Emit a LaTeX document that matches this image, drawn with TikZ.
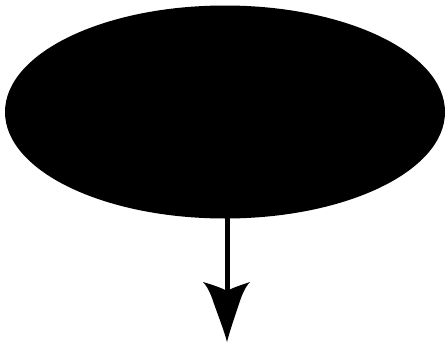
\documentclass[tikz,border=0pt]{standalone}
\usetikzlibrary{shapes.geometric,calc}
\begin{document}
\begin{tikzpicture}[x=1pt,y=-1pt,
  blob/.style={ellipse,fill=black,inner sep=0pt,minimum width=440pt,minimum height=213pt},
  shaft/.style={line width=5pt,draw=black},
  headfill/.style={fill=black}]
\useasboundingbox (0,0) rectangle (445,348);
\node[blob] (e) at (225,112) {};
\coordinate (t) at (227,342);
\draw[shaft] ($(e.south -| t)+(0,-2)$) -- ($(t)+(0,-48)$);
\fill[headfill] (t)
  .. controls ($(t)+(-3,-12)$) and ($(t)+(-11,-32)$) .. ($(t)+(-15,-44)$)
  .. controls ($(t)+(-18,-52)$) and ($(t)+(-21,-57)$) .. ($(t)+(-24,-60)$)
  .. controls ($(t)+(-14,-57)$) and ($(t)+(-5,-54)$) .. ($(t)+(0,-51)$)
  .. controls ($(t)+(5,-54)$) and ($(t)+(14,-57)$) .. ($(t)+(23,-60)$)
  .. controls ($(t)+(20,-57)$) and ($(t)+(17,-52)$) .. ($(t)+(14,-44)$)
  .. controls ($(t)+(10,-32)$) and ($(t)+(3,-12)$) .. (t) -- cycle;
\end{tikzpicture}
\end{document}
